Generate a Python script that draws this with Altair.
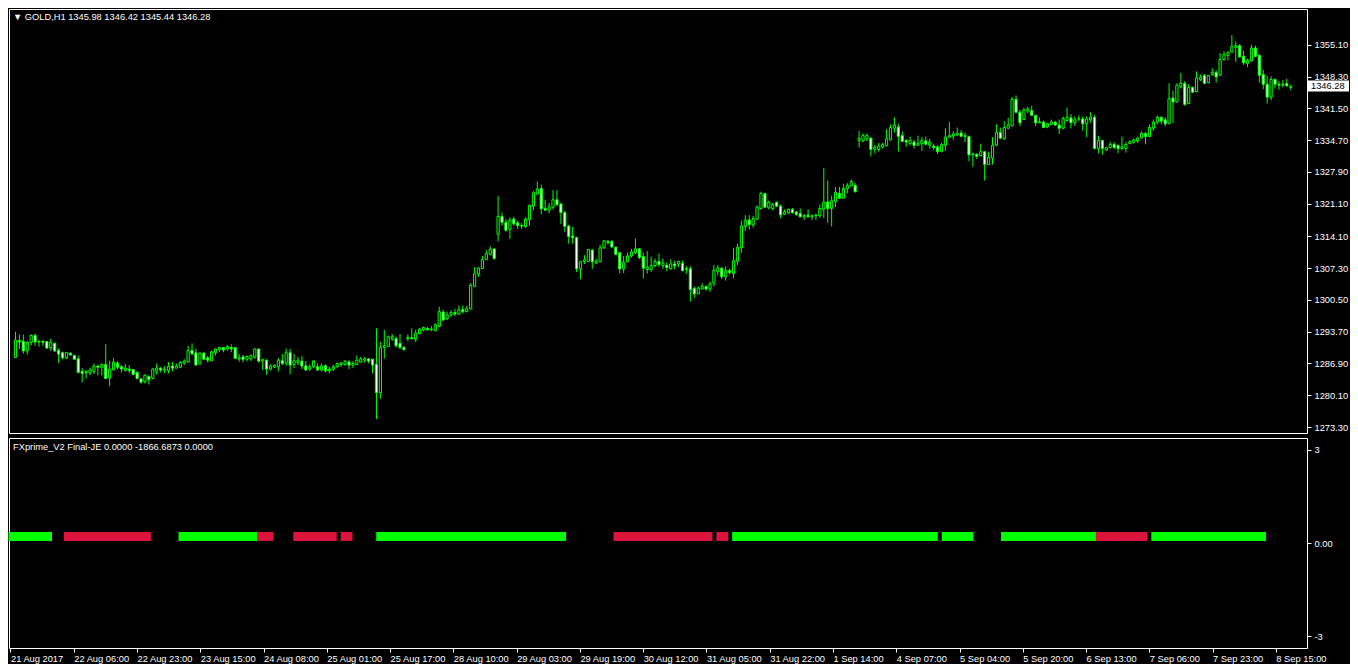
import json
import altair as alt
import pandas as pd

# ---------------- data (GOLD H1, one value per hourly bar) ----------------
OPEN = [
 1288.2,1291.8,1291.6,1289.6,1291.4,1292.9,1291.5,1291.6,1291.6,1290.3,
 1291.2,1289.7,1289.2,1288.1,1289.1,1288.6,1287.9,1285.2,1284.9,1284.9,
 1285.2,1286.35,1286.1,1286.7,1283.8,1285.5,1287.0,1286.2,1285.4,1285.7,
 1285.6,1285.0,1283.6,1283.0,1284.1,1283.7,1285.3,1285.9,1285.5,1285.4,
 1286.35,1285.9,1286.1,1287.0,1287.2,1289.7,1289.2,1286.8,1289.1,1288.1,
 1287.45,1289.2,1289.85,1290.3,1290.0,1290.3,1290.3,1287.85,1288.3,1287.8,
 1287.9,1288.3,1290.0,1287.4,1287.6,1285.7,1286.1,1286.2,1287.5,1287.0,
 1289.2,1286.7,1287.1,1287.4,1286.4,1285.7,1286.2,1286.2,1285.5,1286.4,
 1285.3,1285.65,1286.2,1286.7,1286.7,1287.2,1286.55,1286.7,1287.2,1287.6,
 1287.9,1287.8,1286.7,1280.65,1290.3,1290.5,1292.2,1292.2,1291.2,1290.3,
 1292.2,1292.4,1292.05,1293.3,1294.1,1294.4,1294.1,1293.9,1294.8,1297.9,
 1296.5,1297.3,1297.8,1297.5,1298.4,1298.0,1298.6,1303.4,1306.1,1307.2,
 1309.1,1310.25,1311.4,1314.58,1318.36,1317.1,1315.6,1317.8,1317.0,1316.4,
 1316.2,1317.7,1320.55,1323.16,1324.33,1320.07,1319.73,1320.35,1321.93,1321.04,
 1319.18,1316.3,1314.17,1313.82,1307.16,1308.67,1308.74,1311.15,1308.4,1308.74,
 1311.63,1313.0,1313.0,1311.76,1310.6,1307.16,1308.67,1309.9,1310.6,1311.42,
 1309.77,1307.0,1307.0,1307.85,1308.74,1307.85,1307.92,1307.16,1308.19,1308.19,
 1308.33,1307.02,1307.16,1302.97,1301.8,1302.83,1303.38,1302.83,1304.07,1306.61,
 1307.3,1305.45,1306.82,1306.13,1308.74,1311.63,1316.23,1317.6,1316.57,1317.8,
 1320.07,1323.23,1320.2,1320.0,1321.38,1320.55,1318.84,1319.1,1319.87,1319.32,
 1318.98,1318.29,1318.63,1318.29,1318.5,1318.5,1319.87,1321.45,1320.07,1321.58,
 1323.3,1322.27,1324.33,1324.88,1325.02,1334.63,1334.5,1334.97,1335.11,1332.7,
 1332.7,1333.26,1333.46,1334.77,1337.24,1337.52,1335.66,1334.63,1333.94,1334.29,
 1333.6,1333.94,1334.5,1333.6,1333.4,1333.26,1332.23,1333.6,1335.32,1335.59,
 1335.8,1336.21,1335.45,1335.45,1331.54,1331.68,1331.41,1332.23,1329.48,1330.85,
 1333.6,1336.35,1334.97,1337.24,1337.72,1343.42,1340.67,1339.1,1340.95,1341.02,
 1339.99,1338.41,1338.55,1337.52,1338.06,1338.55,1337.93,1337.24,1338.89,1339.45,
 1338.41,1339.17,1339.24,1338.2,1339.1,1339.58,1332.92,1334.64,1332.58,1333.13,
 1333.75,1333.54,1332.92,1332.92,1333.95,1334.23,1334.5,1335.19,1336.15,1335.46,
 1337.25,1338.55,1339.58,1339.03,1338.2,1343.7,1342.88,1346.18,1346.86,1342.53,
 1345.97,1345.08,1347.69,1348.51,1347.0,1348.72,1349.2,1348.58,1351.95,1352.84,
 1353.52,1354.56,1354.9,1352.63,1351.12,1351.67,1354.42,1352.84,1348.72,1346.66,
 1343.9,1347.69,1346.66,1346.45,1346.8,1345.98]

HIGH = [
 1293.7,1293.1,1293.1,1291.7,1293.1,1293.3,1292.0,1292.0,1291.6,1292.2,
 1291.4,1290.1,1289.4,1289.3,1289.3,1288.75,1288.6,1285.9,1285.5,1286.0,
 1286.9,1286.55,1286.9,1291.0,1287.5,1288.1,1287.4,1286.55,1286.8,1286.55,
 1285.7,1285.2,1283.8,1284.6,1284.4,1285.9,1286.9,1286.1,1286.35,1287.2,
 1287.2,1286.9,1287.4,1287.8,1290.7,1291.2,1290.1,1289.3,1289.4,1288.5,
 1289.65,1290.1,1290.5,1290.3,1290.8,1291.0,1290.5,1288.95,1288.75,1288.6,
 1288.8,1290.1,1290.1,1287.9,1287.8,1286.7,1286.7,1288.05,1288.95,1290.1,
 1290.0,1288.95,1288.3,1288.5,1287.4,1286.7,1287.6,1286.9,1286.9,1286.7,
 1286.2,1286.6,1287.1,1287.2,1287.6,1287.6,1287.4,1288.6,1288.3,1288.3,
 1287.9,1287.9,1294.45,1291.5,1294.1,1292.9,1293.2,1292.7,1293.2,1290.7,
 1293.1,1294.45,1294.1,1294.45,1294.8,1294.7,1294.9,1295.5,1299.05,1298.4,
 1298.0,1298.3,1298.6,1299.3,1299.3,1299.2,1304.07,1307.5,1307.5,1309.9,
 1311.15,1311.97,1311.6,1322.75,1319.2,1317.8,1318.15,1318.3,1317.5,1316.9,
 1318.15,1320.9,1323.8,1325.85,1325.16,1321.93,1321.24,1324.0,1324.0,1321.24,
 1319.53,1316.57,1316.1,1314.03,1308.88,1310.05,1311.42,1311.42,1309.36,1312.3,
 1313.34,1313.34,1313.34,1311.97,1310.73,1309.9,1310.6,1311.42,1313.69,1311.63,
 1310.6,1310.94,1309.77,1309.36,1310.4,1309.36,1308.53,1309.22,1308.88,1308.88,
 1308.88,1307.71,1307.71,1303.38,1303.38,1304.07,1303.6,1304.4,1307.99,1307.99,
 1307.5,1307.71,1307.16,1311.63,1312.52,1317.46,1318.63,1318.63,1318.5,1320.69,
 1323.65,1323.44,1321.72,1321.24,1321.58,1320.9,1319.87,1320.07,1320.2,1319.53,
 1320.07,1318.84,1319.87,1318.84,1318.98,1320.9,1328.73,1326.05,1322.82,1324.68,
 1324.68,1325.36,1325.5,1326.25,1325.57,1336.69,1336.14,1336.14,1335.32,1333.6,
 1334.08,1334.08,1337.03,1338.06,1339.58,1338.2,1336.55,1334.97,1335.45,1334.77,
 1335.66,1335.32,1335.45,1334.97,1333.94,1333.6,1334.08,1337.24,1338.61,1336.55,
 1337.38,1336.83,1336.35,1335.66,1332.02,1331.88,1333.94,1332.23,1332.23,1335.32,
 1338.06,1337.38,1338.75,1339.44,1343.9,1344.25,1341.16,1341.64,1341.84,1342.05,
 1339.99,1339.58,1338.89,1338.41,1339.1,1338.75,1339.1,1339.78,1341.64,1340.26,
 1339.79,1340.0,1339.79,1339.79,1340.68,1340.0,1335.67,1334.64,1333.26,1334.3,
 1334.3,1333.82,1335.46,1334.3,1334.64,1334.98,1335.46,1336.56,1336.36,1338.07,
 1339.1,1340.0,1339.79,1339.58,1346.86,1345.28,1346.86,1349.06,1347.34,1346.66,
 1346.18,1349.4,1348.72,1348.86,1348.51,1350.09,1349.61,1353.32,1353.73,1353.73,
 1357.17,1355.79,1355.24,1353.87,1352.15,1355.1,1354.9,1353.04,1349.75,1348.37,
 1348.37,1347.83,1347.34,1347.55,1347.83,1346.42]

LOW = [
 1288.1,1290.0,1289.0,1288.8,1290.8,1290.7,1290.5,1290.7,1290.0,1289.6,
 1289.4,1287.0,1287.8,1287.8,1288.6,1287.8,1284.8,1282.8,1283.7,1284.4,
 1284.6,1284.4,1284.3,1283.7,1282.0,1285.5,1285.7,1285.0,1285.2,1284.8,
 1284.4,1283.5,1282.6,1282.6,1282.4,1283.5,1284.5,1285.0,1284.8,1284.8,
 1285.2,1285.9,1285.9,1286.55,1287.1,1288.6,1286.55,1286.7,1287.6,1287.1,
 1287.4,1288.6,1289.4,1289.3,1289.65,1289.3,1287.9,1287.25,1287.1,1287.4,
 1287.4,1287.9,1287.1,1285.5,1284.5,1285.4,1285.9,1285.2,1286.55,1286.4,
 1284.6,1285.9,1286.55,1285.7,1285.3,1285.3,1285.9,1285.3,1285.2,1285.0,
 1284.8,1285.3,1286.0,1286.2,1286.4,1285.7,1285.9,1286.55,1287.1,1287.1,
 1286.9,1284.8,1275.0,1279.35,1287.9,1290.5,1291.7,1290.3,1290.0,1289.65,
 1291.7,1292.05,1291.5,1293.1,1293.8,1293.97,1293.8,1293.8,1294.7,1296.0,
 1296.2,1296.9,1297.0,1297.3,1297.6,1297.8,1298.5,1303.4,1305.45,1307.2,
 1309.1,1310.05,1309.1,1313.0,1316.4,1315.1,1313.55,1316.4,1315.7,1315.7,
 1315.9,1316.4,1319.66,1322.96,1318.84,1319.5,1318.98,1319.87,1320.55,1316.78,
 1315.06,1312.52,1312.52,1306.48,1304.97,1308.19,1308.6,1307.16,1308.19,1308.53,
 1311.42,1312.3,1311.63,1310.05,1306.13,1306.27,1308.53,1309.57,1310.25,1309.22,
 1305.1,1306.13,1306.47,1307.5,1307.5,1307.16,1306.61,1307.02,1307.02,1307.5,
 1306.61,1306.13,1300.16,1300.98,1301.8,1302.7,1302.5,1302.22,1303.38,1305.79,
 1304.96,1304.62,1305.93,1305.1,1307.99,1310.6,1315.27,1315.54,1315.95,1317.67,
 1319.87,1320.2,1319.87,1319.66,1320.35,1318.0,1318.7,1318.98,1318.98,1318.5,
 1318.15,1317.6,1318.15,1317.6,1317.6,1318.15,1318.0,1316.98,1316.23,1320.35,
 1322.14,1322.14,1323.3,1324.88,1323.51,1333.12,1334.29,1334.5,1331.2,1331.88,
 1332.23,1332.91,1333.4,1334.63,1336.35,1332.23,1334.29,1333.26,1333.6,1332.91,
 1333.6,1332.43,1333.8,1332.91,1332.57,1331.75,1332.23,1332.43,1335.32,1334.77,
 1335.6,1335.45,1334.29,1330.17,1329.0,1330.65,1331.2,1326.05,1329.48,1329.48,
 1333.4,1334.97,1334.77,1337.1,1337.72,1340.47,1337.72,1339.1,1340.47,1339.99,
 1337.72,1338.41,1337.38,1337.24,1337.93,1337.72,1336.0,1337.03,1338.75,1337.2,
 1337.73,1338.76,1336.7,1335.33,1338.41,1332.72,1331.89,1331.55,1332.44,1332.92,
 1332.72,1331.89,1332.58,1332.03,1333.81,1333.95,1334.09,1334.98,1333.81,1335.33,
 1336.7,1338.07,1338.07,1337.73,1338.2,1338.41,1342.74,1345.76,1342.05,1342.4,
 1344.94,1344.94,1347.34,1346.66,1346.86,1348.51,1347.0,1348.37,1351.67,1351.81,
 1353.52,1351.46,1352.36,1350.78,1350.3,1351.46,1352.5,1347.0,1345.62,1342.53,
 1343.22,1345.76,1345.49,1345.97,1346.18,1345.44]

CLOSE = [
 1291.9,1291.5,1289.6,1291.4,1292.9,1291.5,1291.6,1291.4,1290.2,1291.4,
 1289.6,1288.9,1288.1,1289.2,1288.7,1287.8,1285.0,1284.8,1285.2,1285.5,
 1286.35,1286.1,1286.7,1283.7,1285.7,1287.2,1286.1,1285.7,1285.9,1285.4,
 1284.5,1283.7,1282.9,1284.4,1283.5,1285.7,1285.9,1285.5,1285.7,1286.3,
 1285.9,1286.35,1287.1,1287.4,1289.65,1289.0,1286.55,1289.1,1287.8,1287.6,
 1289.4,1290.0,1290.3,1289.8,1290.5,1290.0,1288.0,1288.1,1287.8,1288.4,
 1288.6,1290.0,1287.4,1287.7,1285.7,1286.35,1286.5,1287.6,1286.9,1289.2,
 1286.55,1287.45,1287.6,1286.35,1285.5,1286.2,1287.45,1285.5,1286.4,1285.3,
 1285.7,1286.2,1286.9,1287.0,1287.4,1286.55,1286.9,1287.6,1287.9,1287.9,
 1287.4,1286.55,1280.65,1290.3,1290.7,1292.6,1292.7,1290.7,1290.3,1289.85,
 1292.5,1292.2,1293.4,1294.25,1294.6,1294.1,1294.25,1295.2,1298.0,1296.2,
 1297.3,1297.8,1297.5,1298.4,1298.0,1298.6,1303.6,1306.1,1307.3,1309.1,
 1310.4,1311.4,1309.4,1318.36,1317.1,1315.4,1317.6,1316.8,1316.4,1316.3,
 1317.8,1320.7,1323.44,1324.2,1320.0,1319.73,1320.42,1321.93,1320.9,1319.18,
 1316.23,1314.03,1313.82,1307.16,1308.67,1309.08,1311.28,1308.67,1308.74,1311.63,
 1313.14,1312.79,1311.83,1310.25,1307.16,1308.53,1309.9,1310.8,1311.42,1309.57,
 1307.3,1307.5,1307.85,1308.74,1308.1,1308.4,1307.44,1308.19,1307.78,1308.74,
 1306.75,1307.23,1302.7,1301.8,1303.04,1303.38,1302.83,1303.9,1306.82,1307.3,
 1305.45,1306.82,1306.34,1308.88,1311.76,1316.3,1317.6,1316.64,1317.94,1320.42,
 1323.3,1320.35,1321.45,1320.9,1320.55,1318.7,1319.32,1319.87,1319.18,1318.84,
 1318.29,1318.63,1318.29,1318.5,1318.63,1320.07,1321.45,1320.07,1321.72,1323.51,
 1322.27,1324.33,1325.02,1325.84,1323.65,1335.11,1335.66,1335.66,1332.7,1333.12,
 1333.46,1333.74,1334.97,1337.38,1337.86,1335.52,1334.43,1334.29,1334.63,1333.6,
 1333.94,1334.63,1333.8,1334.29,1333.12,1332.23,1333.74,1335.32,1335.66,1336.0,
 1336.14,1335.52,1335.66,1331.54,1331.75,1331.2,1332.23,1329.48,1330.99,1333.6,
 1336.35,1335.11,1337.38,1337.93,1343.42,1340.67,1338.41,1341.16,1341.36,1339.99,
 1338.41,1338.61,1337.38,1338.2,1338.61,1337.93,1337.24,1339.3,1339.58,1338.42,
 1339.03,1339.3,1338.2,1339.24,1339.58,1332.92,1334.64,1332.92,1333.06,1333.75,
 1333.13,1332.92,1333.26,1333.75,1334.36,1334.78,1335.12,1336.15,1335.46,1337.39,
 1338.55,1339.58,1338.76,1338.2,1343.57,1342.88,1346.45,1346.86,1342.33,1345.97,
 1344.94,1348.03,1348.17,1346.86,1348.51,1349.2,1348.24,1351.95,1353.04,1353.39,
 1354.7,1354.9,1352.5,1351.26,1351.81,1354.42,1352.63,1348.58,1346.66,1343.9,
 1347.69,1346.66,1346.45,1346.66,1346.31,1346.28]

# x-axis labels, one every 16 bars
TIME_LABELS = ["21 Aug 2017", "22 Aug 06:00", "22 Aug 23:00", "23 Aug 15:00", "24 Aug 08:00",
               "25 Aug 01:00", "25 Aug 17:00", "28 Aug 10:00", "29 Aug 03:00", "29 Aug 19:00",
               "30 Aug 12:00", "31 Aug 05:00", "31 Aug 22:00", "1 Sep 14:00", "4 Sep 07:00",
               "5 Sep 04:00", "5 Sep 20:00", "6 Sep 13:00", "7 Sep 06:00", "7 Sep 23:00",
               "8 Sep 15:00"]
LABEL_STEP = 16

PRICE_TICKS = [1273.30, 1280.10, 1286.90, 1293.70, 1300.50, 1307.30, 1314.10,
               1321.10, 1327.90, 1334.70, 1341.50, 1348.30, 1355.10]
PRICE_RANGE = [1273.09, 1361.69]

# indicator histogram runs (first bar, last bar, state)
SEG_START = [0, 14, 43, 63, 72, 84, 93, 153, 179, 183, 236, 251, 275, 289]
SEG_END = [10, 35, 62, 66, 82, 86, 140, 177, 181, 234, 243, 274, 287, 317]
SEG_STATE = ["up", "down", "up", "down", "down", "down", "up", "down", "down",
             "up", "up", "up", "down", "up"]
IND_LEVEL = 0.21
IND_RANGE = [-3.21, 3.21]
IND_TICKS = [-3, 0, 3]

TITLE_MAIN = "\u25BC GOLD,H1  1345.98 1346.42 1345.44 1346.28"
TITLE_IND = "FXprime_V2 Final-JE 0.0000 -1866.6873 0.0000"
LAST_PRICE = 1346.28

# ---------------- chart ----------------
W = 1298
H1 = 424
H2 = 210
FONT = "Liberation Sans"
FS = 9.3
LIME = "#00ff00"
RED = "#dc143c"

n = len(CLOSE)
df = pd.DataFrame({"i": list(range(n)), "open": OPEN, "high": HIGH, "low": LOW, "close": CLOSE})
df["dir"] = ["bull" if c >= o else "bear" for o, c in zip(OPEN, CLOSE)]

xdom = [-0.375, n + 1.875]
xscale = alt.Scale(domain=xdom, nice=False, zero=False)
yscale = alt.Scale(domain=PRICE_RANGE, nice=False, zero=False)


def price_axis():
    return alt.Axis(orient="right", values=PRICE_TICKS, format=".2f", title=None,
                    labelOverlap=False, labelBound=False, labelFlush=False)


wicks = alt.Chart(df).mark_rule(color=LIME, strokeWidth=1).encode(
    x=alt.X("i:Q", scale=xscale, axis=None),
    y=alt.Y("low:Q", scale=yscale, axis=price_axis()),
    y2="high:Q",
)
bodies = alt.Chart(df).mark_bar(size=2.2, stroke=LIME, strokeWidth=1).encode(
    x=alt.X("i:Q", scale=xscale, axis=None),
    y=alt.Y("open:Q", scale=yscale, axis=price_axis()),
    y2="close:Q",
    fill=alt.Fill("dir:N", scale=alt.Scale(domain=["bull", "bear"], range=["#000000", "#ffffff"]), legend=None),
)
title_main = alt.Chart(pd.DataFrame({"t": [TITLE_MAIN]})).mark_text(
    align="left", baseline="middle", color="white", font=FONT, fontSize=FS
).encode(x=alt.value(4), y=alt.value(8), text="t:N")

last_df = pd.DataFrame({"p": [LAST_PRICE], "t": [f"{LAST_PRICE:.2f}"]})
last_box = alt.Chart(last_df).mark_bar(size=11, color="white").encode(
    x=alt.value(W + 1), x2=alt.value(W + 42), y=alt.Y("p:Q", scale=yscale, axis=price_axis())
)
last_text = alt.Chart(last_df).mark_text(
    align="left", baseline="middle", color="black", font=FONT, fontSize=FS
).encode(x=alt.value(W + 4), y=alt.Y("p:Q", scale=yscale, axis=price_axis()), text="t:N")

main = alt.layer(wicks, bodies, title_main, last_box, last_text).properties(width=W, height=H1)

seg_df = pd.DataFrame({
    "s": [a - 0.5 for a in SEG_START],
    "e": [b + 0.5 for b in SEG_END],
    "state": SEG_STATE,
    "lvl": [IND_LEVEL] * len(SEG_START),
})
label_expr = json.dumps(TIME_LABELS) + f"[round(datum.value / {LABEL_STEP})]"
segs = alt.Chart(seg_df).mark_bar(size=9).encode(
    x=alt.X("s:Q", scale=xscale, axis=alt.Axis(
        orient="bottom", values=[k * LABEL_STEP for k in range(len(TIME_LABELS))],
        labelExpr=label_expr, labelAlign="left", labelPadding=2, labelOverlap=False,
        labelBound=False, labelFlush=False, title=None)),
    x2="e:Q",
    y=alt.Y("lvl:Q", scale=alt.Scale(domain=IND_RANGE, nice=False, zero=False),
            axis=alt.Axis(orient="right", values=IND_TICKS, title=None, labelOverlap=False,
                          labelBound=False, labelFlush=False,
                          labelExpr="datum.value == 0 ? '0.00' : '' + datum.value")),
    color=alt.Color("state:N", scale=alt.Scale(domain=["up", "down"], range=[LIME, RED]), legend=None),
)
title_ind = alt.Chart(pd.DataFrame({"t": [TITLE_IND]})).mark_text(
    align="left", baseline="middle", color="white", font=FONT, fontSize=FS
).encode(x=alt.value(4), y=alt.value(9), text="t:N")

lower = alt.layer(segs, title_ind).properties(width=W, height=H2)

chart = alt.vconcat(main, lower, spacing=3).properties(
    background="#000000",
    padding={"left": 0, "top": 0, "right": 0, "bottom": 0},
    autosize=alt.AutoSizeParams(type="pad"),
).configure_view(
    stroke="#ffffff", strokeWidth=1
).configure_axis(
    labelColor="white", tickColor="white", tickSize=4, domain=False, grid=False,
    labelFont=FONT, labelFontSize=FS, labelPadding=3, labelOverlap=False
)

chart.save("out.html", embed_options={"renderer": "svg", "actions": False})
